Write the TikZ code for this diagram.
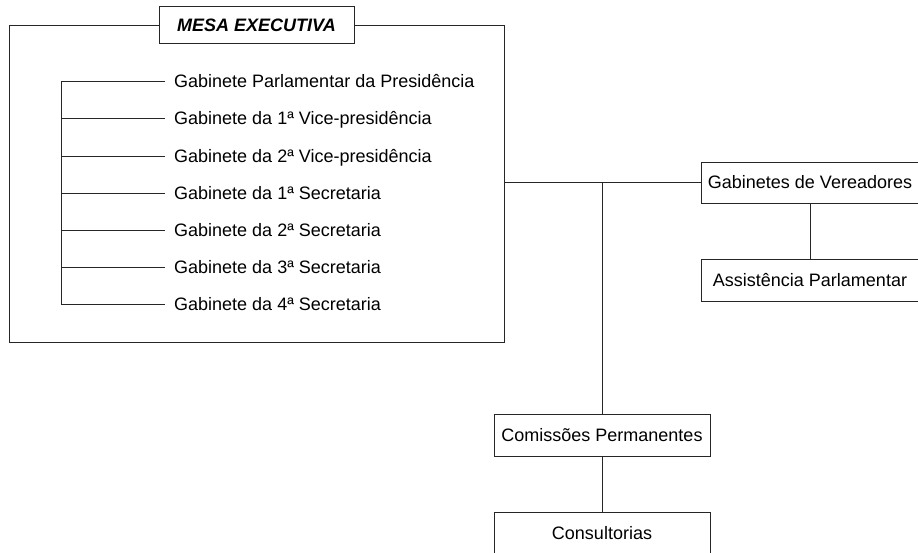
\documentclass[tikz,border=0pt]{standalone}
\usepackage{fontspec}
\setmainfont{Liberation Sans}
\begin{document}
\begin{tikzpicture}[x=1pt,y=-1pt,
  ln/.style={line width=0.9pt,draw=black!85},
  txt/.style={font=\fontsize{18}{21}\selectfont,text height=13pt,text depth=0pt,inner ysep=0pt},
  item/.style={txt,anchor=west,inner xsep=9pt},
  box/.style={txt,ln,draw,fill=white,minimum height=41pt,inner xsep=6pt},
  title/.style={box,font=\fontsize{18}{21}\selectfont\bfseries\itshape,minimum width=195pt,minimum height=37pt}]
\useasboundingbox (0,0) rectangle (918,553);
\clip (0,0) rectangle (918,553);
% big box
\draw[ln] (9,25) rectangle (504,342);
\node[title] (mesa) at (256.5,25) {MESA EXECUTIVA};
% list items
\coordinate (bx) at (61,0);
\node[item] (g1) at (165,81) {Gabinete Parlamentar da Presidência};
\node[item] (g2) at (165,118.5) {Gabinete da 1ª Vice-presidência};
\node[item] (g3) at (165,156) {Gabinete da 2ª Vice-presidência};
\node[item] (g4) at (165,193) {Gabinete da 1ª Secretaria};
\node[item] (g5) at (165,230.5) {Gabinete da 2ª Secretaria};
\node[item] (g6) at (165,267.5) {Gabinete da 3ª Secretaria};
\node[item] (g7) at (165,304) {Gabinete da 4ª Secretaria};
\draw[ln] (g1.west) -- (g1.west -| bx) -- (g7.west -| bx) -- (g7.west);
\foreach \g in {g2,g3,g4,g5,g6}{\draw[ln] (\g.west -| bx) -- (\g.west);}
% right side
\node[box,minimum width=218pt] (gab) at (810,182.5) {Gabinetes de Vereadores};
\node[box,minimum width=218pt,minimum height=42pt] (ass) at (810,280) {Assistência Parlamentar};
\node[box,minimum width=216pt,minimum height=42pt] (com) at (602,435) {Comissões Permanentes};
\node[box,minimum width=216pt,minimum height=42pt] (con) at (602,533) {Consultorias};
\coordinate (mr) at (504,182.5);
\coordinate (tr) at (602,182.5);
\draw[ln] (mr) -- (gab.west);
\draw[ln] (tr) -- (com.north);
\draw[ln] (gab.south) -- (ass.north);
\draw[ln] (com.south) -- (con.north);
\end{tikzpicture}
\end{document}
